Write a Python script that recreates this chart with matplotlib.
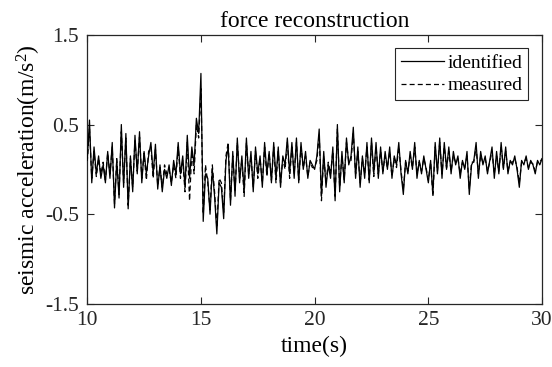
import matplotlib
matplotlib.use('Agg')
import matplotlib.pyplot as plt
import numpy as np

# time axis: 10 s .. 30 s, sampled every 0.1 s
t_start, t_stop, t_step = 10.0, 30.0, 0.1

identified = [
    0.10, 0.55, -0.15, 0.25, -0.05, 0.15, -0.10, 0.05, -0.15, 0.20,
    -0.10, 0.30, -0.43, 0.10, -0.32, 0.50, -0.20, 0.40, -0.44, 0.15,
    -0.25, 0.38, -0.05, 0.42, -0.15, 0.20, -0.05, 0.15, 0.30, -0.05,
    0.28, -0.22, 0.05, -0.25, 0.00, -0.10, 0.05, -0.18, 0.10, -0.05,
    0.30, -0.05, 0.15, -0.20, 0.38, -0.10, 0.25, 0.05, 0.57, 0.40,
    1.07, -0.58, -0.05, -0.10, -0.50, 0.00, -0.30, -0.72, -0.15, -0.20,
    -0.55, 0.10, 0.25, -0.40, 0.20, -0.30, 0.35, -0.15, 0.15, -0.25,
    0.35, -0.10, 0.20, -0.25, 0.25, -0.05, 0.15, -0.20, 0.30, -0.05,
    0.20, -0.15, 0.30, -0.10, 0.25, -0.20, 0.15, 0.05, 0.35, -0.05,
    0.30, -0.10, 0.35, -0.15, 0.30, 0.00, 0.20, -0.10, 0.10, 0.05,
    0.00, 0.15, 0.45, -0.30, 0.20, -0.20, 0.05, -0.10, 0.25, -0.35,
    0.50, -0.25, 0.20, -0.15, 0.35, 0.05, 0.15, 0.47, -0.10, 0.25,
    -0.20, 0.15, -0.10, 0.30, -0.15, 0.35, -0.05, 0.30, -0.10, 0.25,
    -0.05, 0.20, 0.00, 0.25, -0.10, 0.15, 0.05, 0.30, -0.05, -0.28,
    0.10, -0.05, 0.20, 0.00, 0.30, -0.10, 0.10, -0.05, 0.15, 0.00,
    -0.15, 0.10, -0.28, 0.30, -0.05, 0.35, -0.10, 0.30, 0.00, 0.25,
    -0.05, 0.20, 0.05, 0.15, -0.10, 0.10, 0.00, 0.20, -0.28, 0.05,
    0.10, 0.30, -0.10, 0.20, 0.05, 0.15, -0.05, 0.10, 0.25, -0.10,
    0.20, -0.05, 0.30, 0.00, 0.25, -0.05, 0.10, 0.05, 0.15, 0.00,
    -0.20, 0.10, 0.05, 0.15, 0.00, 0.10, 0.05, -0.05, 0.10, 0.05,
    0.12,
]

measured = [
    0.08, 0.45, -0.10, 0.20, -0.08, 0.12, -0.05, 0.08, -0.12, 0.18,
    -0.05, 0.25, -0.38, 0.12, -0.28, 0.42, -0.15, 0.35, -0.40, 0.12,
    -0.20, 0.32, -0.02, 0.36, -0.10, 0.18, -0.12, 0.20, 0.25, -0.10,
    0.22, -0.18, 0.02, -0.20, 0.05, -0.05, 0.00, -0.15, 0.05, -0.10,
    0.25, -0.10, 0.10, -0.25, 0.30, -0.35, 0.20, -0.05, 0.50, 0.35,
    0.90, -0.50, 0.05, -0.15, -0.45, 0.05, -0.25, -0.65, -0.10, -0.15,
    -0.48, 0.15, 0.30, -0.35, 0.15, -0.25, 0.30, -0.10, 0.10, -0.30,
    0.30, -0.05, 0.15, -0.20, 0.20, -0.10, 0.12, -0.15, 0.25, -0.08,
    0.18, -0.12, 0.25, -0.15, 0.20, -0.15, 0.12, 0.00, 0.30, -0.10,
    0.25, -0.05, 0.30, -0.12, 0.25, 0.02, 0.15, -0.08, 0.08, 0.02,
    0.02, 0.10, 0.40, -0.35, 0.15, -0.15, 0.08, -0.05, 0.20, -0.30,
    0.45, -0.20, 0.15, -0.12, 0.30, 0.08, 0.10, 0.40, -0.05, 0.20,
    -0.15, 0.12, -0.05, 0.25, -0.12, 0.30, -0.08, 0.25, -0.05, 0.20,
    -0.02, 0.15, 0.02, 0.20, -0.08, 0.12, 0.02, 0.25, -0.02, -0.22,
    0.08, -0.02, 0.15, 0.02, 0.25, -0.05, 0.08, -0.02, 0.12, 0.02,
    -0.12, 0.08, -0.30, 0.25, -0.02, 0.30, -0.05, 0.25, 0.02, 0.20,
    -0.02, 0.15, 0.08, 0.12, -0.05, 0.08, 0.02, 0.15, -0.22, 0.08,
    0.08, 0.25, -0.05, 0.15, 0.08, 0.12, -0.02, 0.08, 0.20, -0.05,
    0.15, -0.02, 0.25, 0.02, 0.20, -0.02, 0.08, 0.08, 0.12, 0.02,
    -0.15, 0.08, 0.08, 0.12, 0.02, 0.08, 0.06, -0.02, 0.08, 0.08,
    0.12,
]

x_ticks = [10, 15, 20, 25, 30]
y_ticks = [-1.5, -0.5, 0.5, 1.5]
y_tick_labels = ['-1.5', '-0.5', '0.5', '1.5']

plt.rcParams['font.family'] = ['Liberation Serif', 'DejaVu Serif']
plt.rcParams['mathtext.fontset'] = 'custom'
plt.rcParams['mathtext.rm'] = 'Liberation Serif'
plt.rcParams['mathtext.it'] = 'Liberation Serif:italic'

t = np.linspace(t_start, t_stop, len(identified))

fig = plt.figure(figsize=(5.52, 3.67), dpi=100)
ax = fig.add_axes([0.158, 0.172, 0.824, 0.733])

ax.plot(t, measured, color='black', linestyle='--', linewidth=0.9,
        dashes=(4, 2.5), label='measured', zorder=2)
ax.plot(t, identified, color='black', linestyle='-', linewidth=0.9,
        label='identified', zorder=3)

ax.set_xlim(10, 30)
ax.set_ylim(-1.5, 1.5)
ax.set_xticks(x_ticks)
ax.set_yticks(y_ticks)
ax.set_yticklabels(y_tick_labels)
ax.tick_params(direction='in', length=5, width=0.8, top=True, right=True,
               labelsize=15.5, colors='#262626')
ax.tick_params(axis='y', pad=6)
ax.tick_params(axis='x', pad=5)
for s in ax.spines.values():
    s.set_linewidth(0.9)
    s.set_color('#262626')

ax.set_xlabel('time(s)', fontsize=17, labelpad=4)
ax.set_ylabel('seismic acceleration(m/s$^{2}$)', fontsize=17, labelpad=1)
ax.set_title('force reconstruction', fontsize=17, pad=6)

# legend: identified first, like the reference
handles, labels = ax.get_legend_handles_labels()
leg = ax.legend(handles[::-1], labels[::-1], loc='upper right', fontsize=14,
                fancybox=False, framealpha=1, edgecolor='#262626',
                handlelength=2.2, handletextpad=0.2, borderpad=0.3,
                labelspacing=0.25, borderaxespad=0.7)
leg.get_frame().set_linewidth(0.8)

plt.savefig('out.png', dpi=100)
plt.close()
